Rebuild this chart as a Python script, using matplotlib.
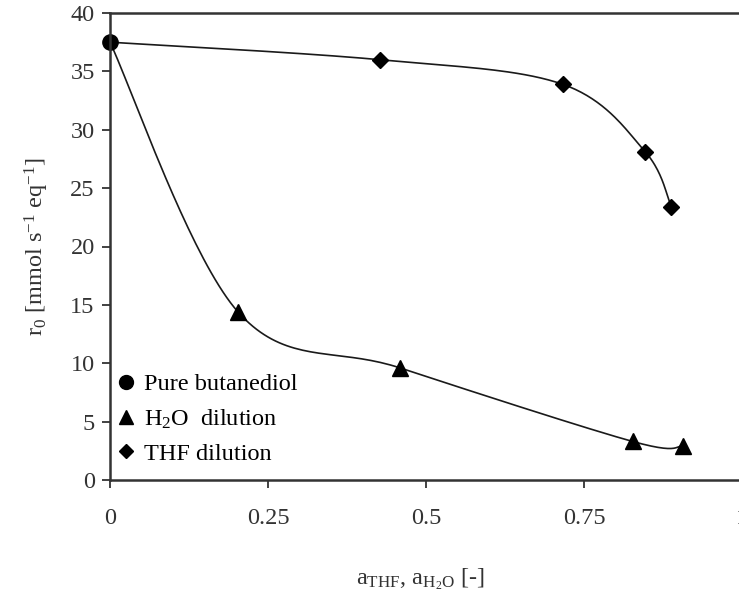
import numpy as np
import matplotlib
matplotlib.use("Agg")
import matplotlib.pyplot as plt
from matplotlib.lines import Line2D

plt.rcParams['font.family'] = ['Liberation Serif', 'DejaVu Serif']
plt.rcParams['mathtext.fontset'] = 'custom'
plt.rcParams['mathtext.rm'] = 'Liberation Serif'
plt.rcParams['mathtext.it'] = 'Liberation Serif:italic'

# data
pure_x = [0.0]
pure_y = [37.5]
h2o_x = [0.0, 0.2025, 0.459, 0.827, 0.907]
h2o_y = [37.5, 14.4, 9.6, 3.3, 2.9]
thf_x = [0.0, 0.427, 0.716, 0.847, 0.888]
thf_y = [37.5, 36.0, 33.9, 28.1, 23.4]

xticks = [0, 0.25, 0.5, 0.75, 1]
xticklabels = ['0', '0.25', '0.5', '0.75', '1']
yticks = list(range(0, 45, 5))


def smooth(xs, ys, n=40):
    # excel style smoothed line (bezier, control points at 1/6 of neighbour diff)
    p = np.column_stack([xs, ys]).astype(float)
    p_ext = np.vstack([p[0], p, p[-1]])
    out = []
    for i in range(len(p) - 1):
        p0, p1, p2, p3 = p_ext[i], p_ext[i + 1], p_ext[i + 2], p_ext[i + 3]
        c1 = p1 + (p2 - p0) / 6
        c2 = p2 - (p3 - p1) / 6
        t = np.linspace(0, 1, n)[:, None]
        seg = (1 - t) ** 3 * p1 + 3 * (1 - t) ** 2 * t * c1 + 3 * (1 - t) * t ** 2 * c2 + t ** 3 * p2
        out.append(seg)
    out = np.vstack(out)
    return out[:, 0], out[:, 1]


fig = plt.figure(figsize=(7.39, 5.94), dpi=100)
ax = fig.add_axes([110 / 739, 114 / 594, 632 / 739, 467 / 594])

fs = 17.5
lc = '#1a1a1a'
tc = '#333333'

sx, sy = smooth(thf_x, thf_y)
ax.plot(sx, sy, color=lc, lw=1.2)
sx, sy = smooth(h2o_x, h2o_y)
ax.plot(sx, sy, color=lc, lw=1.2)

ax.plot(thf_x[1:], thf_y[1:], 'D', color='black', ms=8, clip_on=False)
ax.plot(h2o_x[1:], h2o_y[1:], '^', color='black', ms=11, clip_on=False)
ax.plot(pure_x, pure_y, 'o', color='black', ms=11, clip_on=False)

ax.set_xlim(0, 1)
ax.set_ylim(0, 40)
ax.set_xticks(xticks)
ax.set_xticklabels(xticklabels)
ax.set_yticks(yticks)
ax.tick_params(direction='out', length=6, width=1.3, labelsize=fs, colors=tc, pad=5)
ax.tick_params(axis='x', pad=14)
for s in ['left', 'bottom', 'top']:
    ax.spines[s].set_linewidth(1.8)
    ax.spines[s].set_color(tc)
ax.spines['right'].set_visible(False)

ax.set_ylabel(r'r$_0$ [mmol s$^{-1}$ eq$^{-1}$]', fontsize=fs, color=tc, labelpad=14)
ax.set_xlabel(r'a$_{\mathrm{THF}}$, a$_{\mathrm{H_2O}}$ [-]', fontsize=fs, color=tc)
ax.xaxis.set_label_coords(310 / 632, -86 / 467)

handles = [
    Line2D([], [], marker='o', color='black', ls='none', ms=10),
    Line2D([], [], marker='^', color='black', ls='none', ms=10),
    Line2D([], [], marker='D', color='black', ls='none', ms=7.5),
]
labels = ['Pure butanediol', r'H$_2$O  dilution', 'THF dilution']
ax.legend(handles, labels, loc='lower left', bbox_to_anchor=(-0.006, 0.012), frameon=False,
          fontsize=fs, handlelength=0.8, handletextpad=0.35, labelspacing=0.5, borderaxespad=0)

fig.savefig('out.png', dpi=100)
